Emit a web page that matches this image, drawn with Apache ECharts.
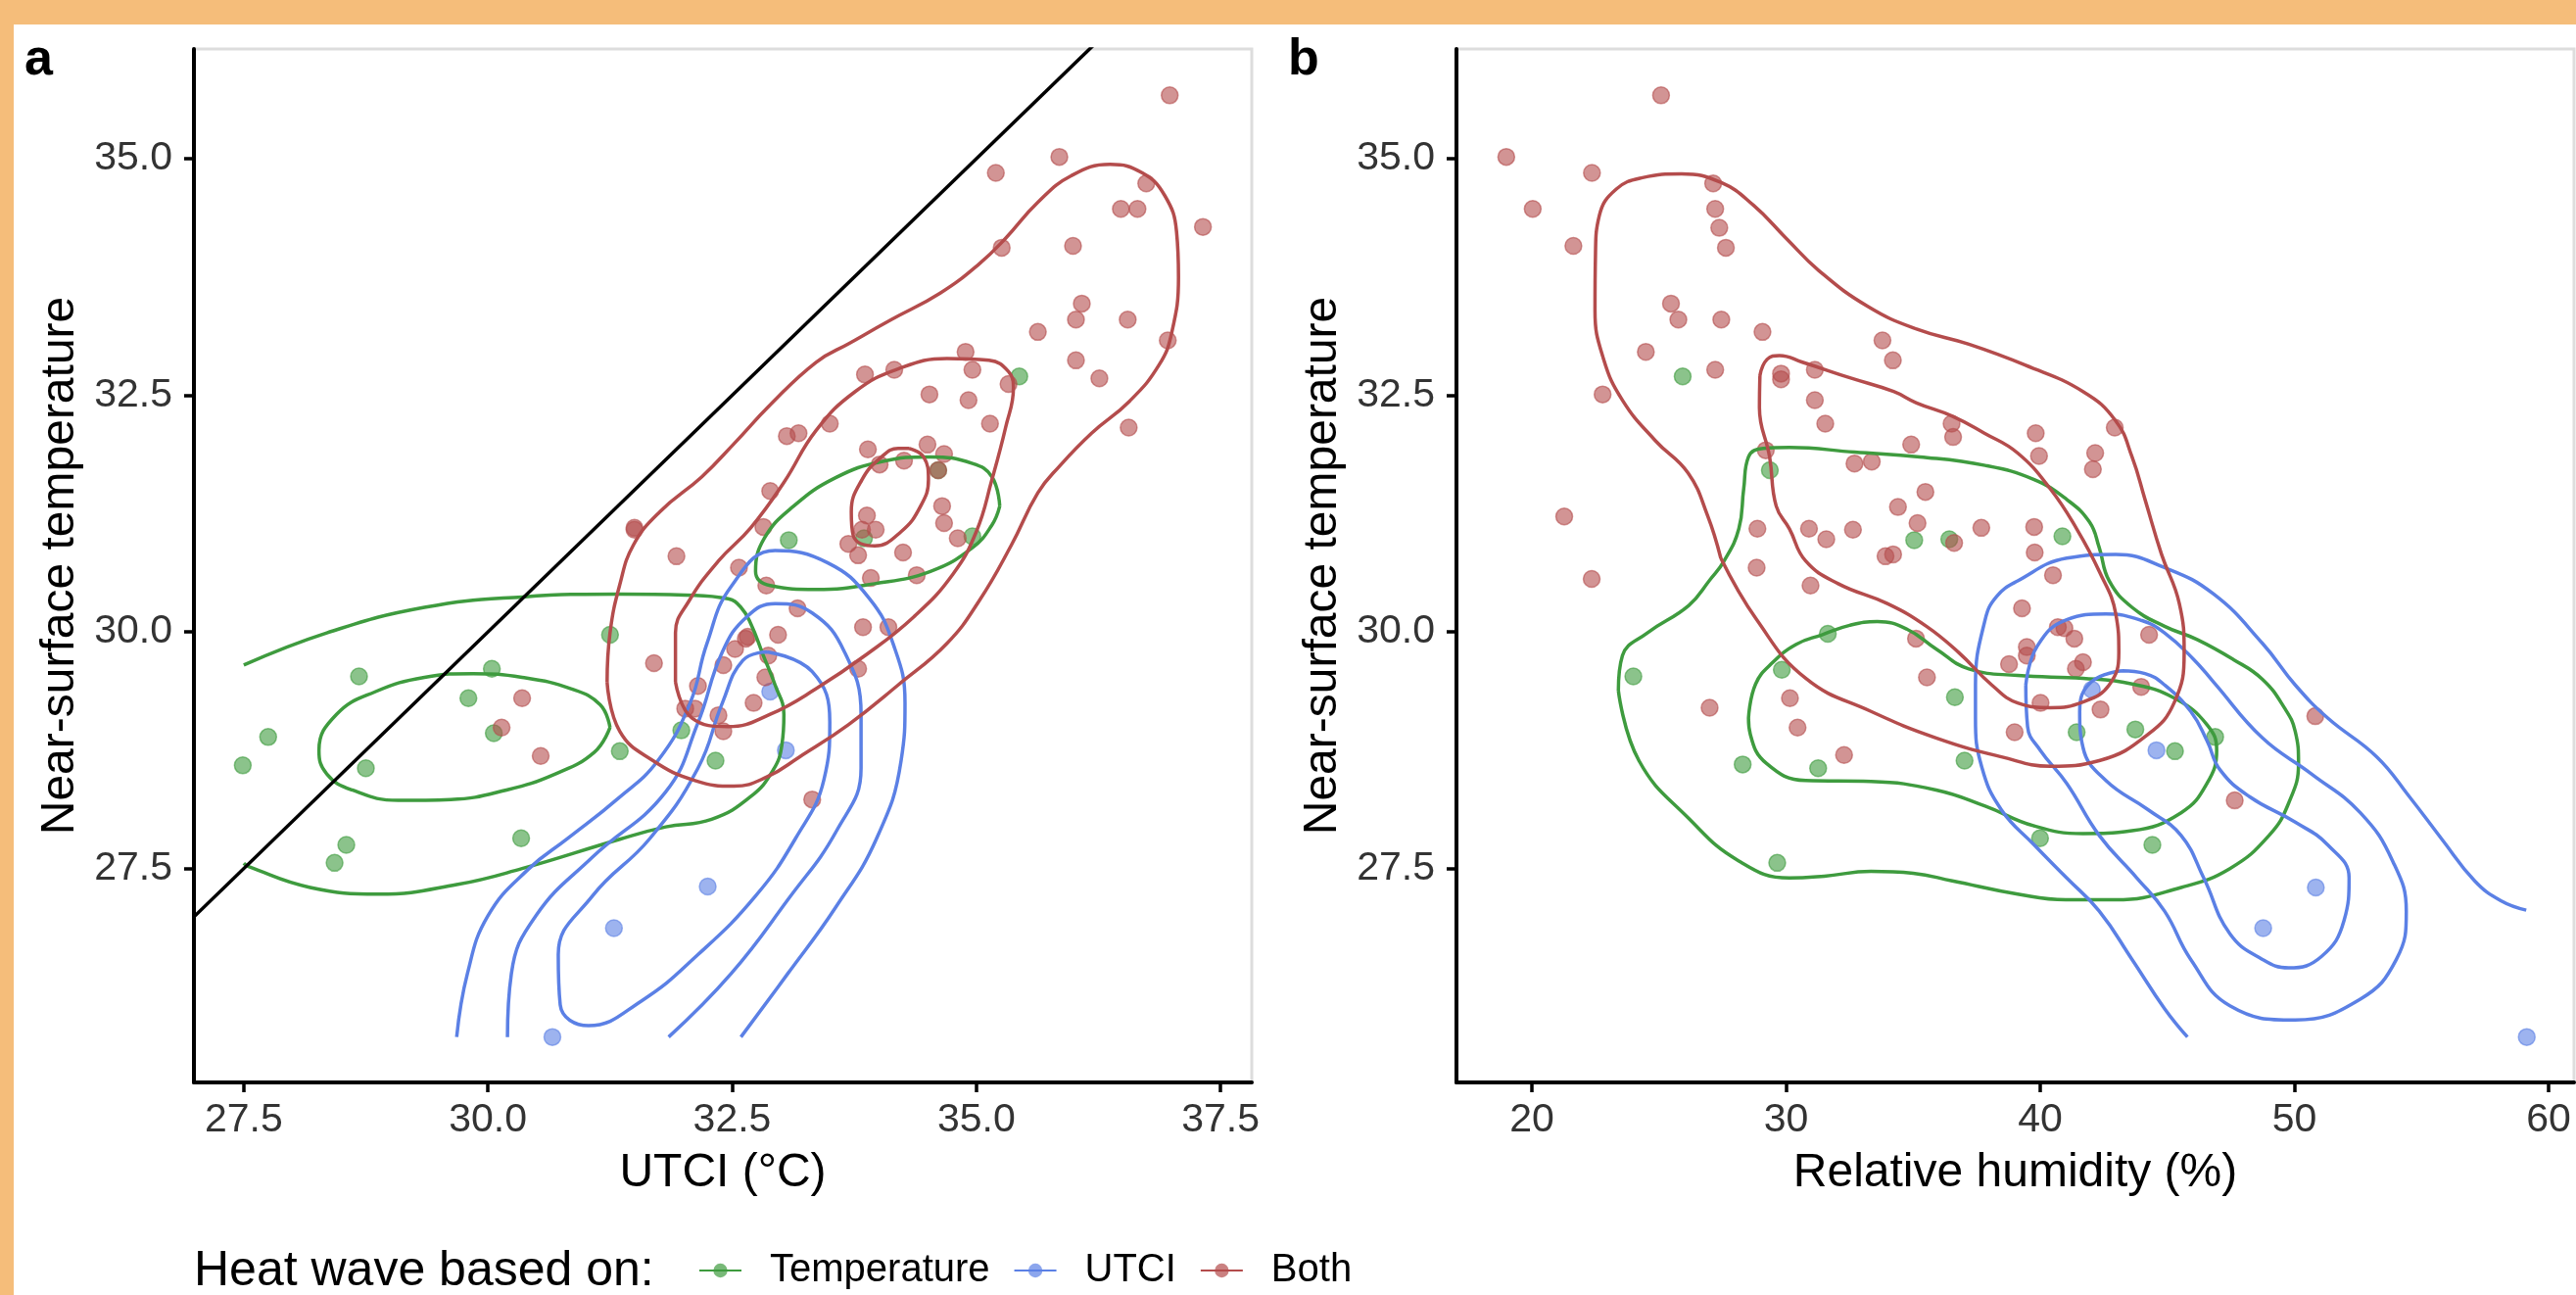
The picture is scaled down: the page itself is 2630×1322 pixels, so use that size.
<!DOCTYPE html>
<html>
<head>
<meta charset="utf-8">
<script src="https://cdn.jsdelivr.net/npm/echarts@6/dist/echarts.min.js"></script>
<style>
html,body{margin:0;padding:0;width:2630px;height:1322px;overflow:hidden;background:#F5BD7A;}
#paper{position:absolute;left:14px;top:25px;width:2616px;height:1297px;background:#ffffff;}
#chart{position:absolute;left:0;top:0;width:2630px;height:1322px;}
</style>
</head>
<body>
<div id="paper"></div>
<div id="chart"></div>
<script>
// ---------------- tick labels ----------------
const yTicks = [27.5, 30.0, 32.5, 35.0];
const xTicksUTCI = [27.5, 30.0, 32.5, 35.0, 37.5];
const xTicksRH = [20, 30, 40, 50, 60];
const groups = ['Temperature', 'UTCI', 'Both'];

// ---------------- points: panel a (UTCI, temperature) ----------------
const utciTemperature = [[28.68,29.53],[30.04,29.61],[29.80,29.30],[30.06,28.93],[27.75,28.89],[27.49,28.59],[28.75,28.56],[31.25,29.97],[31.35,28.74],[31.98,28.96],[28.55,27.75],[28.43,27.56],[30.34,27.82],[35.44,32.70],[33.08,30.97],[34.96,31.01],[33.85,30.99],[32.33,28.64],[34.61,31.71]];
const utciUTCI = [[31.29,26.87],[30.66,25.72],[32.25,27.31],[32.89,29.37],[33.05,28.75]];
const utciBoth = [[36.98,35.67],[35.85,35.02],[35.20,34.85],[36.74,34.74],[36.48,34.47],[36.65,34.47],[37.32,34.28],[35.26,34.06],[35.99,34.08],[36.08,33.47],[36.02,33.30],[36.55,33.30],[35.63,33.17],[36.96,33.08],[36.02,32.87],[36.26,32.68],[34.89,32.96],[34.96,32.77],[33.86,32.72],[34.16,32.77],[35.33,32.62],[34.52,32.51],[34.92,32.45],[35.14,32.20],[33.50,32.20],[33.06,32.07],[33.18,32.10],[36.56,32.16],[33.89,31.93],[34.50,31.98],[34.67,31.88],[34.01,31.77],[34.26,31.81],[34.61,31.71],[32.89,31.49],[34.65,31.33],[34.67,31.15],[33.88,31.23],[33.83,31.08],[33.97,31.08],[34.81,30.99],[32.82,31.11],[33.69,30.93],[33.79,30.81],[34.25,30.84],[31.50,31.10],[31.50,31.08],[31.93,30.80],[32.57,30.68],[32.85,30.49],[33.92,30.57],[34.39,30.60],[33.17,30.25],[33.84,30.05],[34.10,30.05],[32.97,29.97],[32.64,29.93],[32.66,29.95],[32.53,29.82],[31.70,29.67],[32.41,29.65],[32.87,29.75],[33.79,29.61],[32.15,29.43],[32.84,29.52],[32.72,29.25],[32.02,29.19],[32.12,29.19],[32.36,29.12],[32.41,28.95],[33.32,28.23],[30.35,29.30],[30.14,28.99],[30.54,28.69]];

// ---------------- points: panel b (relative humidity, temperature) ----------------
const rhTemperature = [[25.93,32.70],[29.36,31.71],[35.04,30.97],[36.42,30.98],[40.87,31.01],[31.64,29.98],[29.83,29.60],[36.64,29.31],[23.99,29.53],[41.43,28.94],[43.74,28.97],[46.88,28.89],[28.29,28.60],[31.26,28.56],[45.30,28.74],[37.02,28.64],[39.99,27.82],[44.41,27.75],[29.65,27.56]];
const rhUTCI = [[44.57,28.75],[42.03,29.39],[50.84,27.30],[48.77,26.87],[59.14,25.72]];
const rhBoth = [[25.08,35.67],[18.99,35.02],[22.36,34.85],[27.13,34.74],[20.03,34.47],[27.21,34.47],[27.37,34.27],[21.63,34.08],[27.63,34.06],[25.47,33.47],[25.76,33.30],[27.45,33.30],[29.07,33.17],[33.79,33.08],[24.48,32.96],[34.20,32.87],[27.21,32.77],[31.13,32.77],[29.80,32.73],[29.80,32.67],[22.78,32.51],[31.13,32.45],[31.54,32.20],[36.51,32.20],[36.57,32.06],[39.82,32.10],[42.93,32.16],[34.92,31.98],[29.20,31.92],[39.95,31.86],[42.16,31.89],[42.07,31.72],[32.69,31.78],[33.37,31.80],[35.48,31.48],[34.40,31.32],[35.17,31.15],[21.27,31.22],[28.87,31.09],[30.90,31.09],[31.58,30.98],[32.63,31.08],[37.68,31.10],[39.76,31.11],[39.78,30.84],[36.61,30.94],[33.91,30.80],[34.21,30.82],[28.84,30.68],[30.96,30.49],[40.50,30.60],[39.28,30.25],[40.69,30.05],[40.95,30.04],[41.34,29.93],[39.47,29.84],[39.47,29.75],[35.11,29.93],[44.28,29.97],[38.77,29.66],[41.68,29.68],[41.40,29.61],[35.54,29.52],[43.97,29.42],[40.01,29.25],[42.37,29.18],[30.15,29.30],[30.45,28.99],[38.99,28.94],[32.28,28.70],[47.65,28.22],[50.82,29.11],[22.35,30.56],[26.99,29.20]];

// ---------------- reference line (panel a, y = x) ----------------
const identityLine = [[26, 26], [38, 38]];

// ---------------- density contours: panel a ----------------
const cA_Temp_outer = [[27.50,29.65],[28.35,29.99],[29.35,30.26],[30.35,30.37],[31.35,30.40],[32.02,30.39],[32.46,30.35],[32.59,30.26],[32.69,30.09],[32.82,29.75],[32.94,29.44],[33.03,29.13],[33.01,28.81],[32.92,28.54],[32.69,28.26],[32.29,28.02],[31.82,27.94],[31.35,27.81],[30.35,27.50],[29.68,27.33],[28.88,27.23],[28.18,27.30],[27.55,27.52],[27.50,27.555]];
const cA_Temp_left = [[31.25,28.99],[31.15,29.23],[30.85,29.40],[30.35,29.52],[29.85,29.56],[29.35,29.52],[28.85,29.37],[28.45,29.13],[28.27,28.75],[28.35,28.50],[28.61,28.33],[29.08,28.22],[29.62,28.23],[30.19,28.33],[30.69,28.50],[31.09,28.73]];
const cA_Temp_right = [[35.24,31.33],[35.16,31.64],[34.96,31.78],[34.53,31.85],[34.03,31.80],[33.56,31.63],[33.13,31.33],[32.83,30.99],[32.74,30.64],[32.89,30.49],[33.36,30.45],[33.96,30.51],[34.53,30.64],[34.96,30.89],[35.16,31.13]];
const cA_UTCI_outer = [[29.68,25.72],[29.79,26.39],[30.00,27.00],[30.41,27.49],[30.82,27.82],[31.32,28.23],[31.74,28.64],[32.07,29.25],[32.24,29.87],[32.49,30.48],[32.94,30.86],[33.48,30.73],[33.90,30.36],[34.15,29.87],[34.27,29.25],[34.23,28.64],[33.98,27.82],[33.56,27.09],[33.07,26.39],[32.59,25.72]];
const cA_UTCI_middle = [[30.20,25.72],[30.24,26.39],[30.49,27.00],[31.07,27.62],[31.82,28.31],[32.15,29.04],[32.40,29.79],[32.65,30.16],[32.94,30.30],[33.32,30.20],[33.65,29.79],[33.82,29.13],[33.82,28.56],[33.57,27.90],[33.07,27.17],[32.49,26.39],[31.85,25.72]];
const cA_UTCI_inner = [[32.86,29.79],[33.32,29.58],[33.50,29.05],[33.44,28.44],[33.15,27.82],[32.74,27.21],[32.15,26.59],[31.57,26.10],[31.03,25.84],[30.74,26.06],[30.72,26.59],[31.07,27.21],[31.66,27.82],[32.15,28.56],[32.40,29.25],[32.61,29.70]];
const cA_Both_outer = [[31.22,29.47],[31.25,29.99],[31.35,30.50],[31.49,30.92],[31.76,31.27],[32.19,31.64],[32.52,31.99],[32.89,32.40],[33.36,32.85],[33.70,33.05],[34.13,33.30],[34.63,33.58],[35.03,33.89],[35.30,34.16],[35.63,34.54],[35.97,34.82],[36.37,34.94],[36.70,34.85],[36.93,34.61],[37.05,34.23],[37.07,33.75],[37.00,33.16],[36.87,32.82],[36.57,32.44],[36.18,32.10],[35.85,31.75],[35.63,31.47],[35.36,30.92],[35.03,30.33],[34.70,29.88],[34.20,29.44],[33.69,29.02],[33.19,28.68],[32.86,28.47],[32.52,28.37],[32.12,28.43],[31.69,28.64],[31.35,28.95]];
const cA_Both_middle = [[31.92,29.47],[31.92,29.99],[32.06,30.33],[32.36,30.75],[32.69,31.10],[33.03,31.58],[33.36,32.13],[33.76,32.54],[34.20,32.78],[34.70,32.89],[35.13,32.87],[35.33,32.75],[35.38,32.58],[35.30,32.16],[35.16,31.61],[35.00,31.06],[34.76,30.61],[34.36,30.16],[33.86,29.75],[33.36,29.40],[32.89,29.13],[32.46,29.00],[32.09,29.09]];
const cA_Both_inner = [[34.31,31.94],[34.46,31.85],[34.51,31.61],[34.43,31.33],[34.23,31.06],[33.96,30.91],[33.74,31.02],[33.72,31.27],[33.83,31.61],[34.03,31.85],[34.20,31.94]];

// ---------------- density contours: panel b ----------------
const cB_Temp_outer = [[23.40,29.38],[23.56,29.75],[24.54,29.99],[26.17,30.28],[27.00,30.55],[27.56,30.75],[28.14,31.09],[28.33,31.51],[28.52,31.85],[29.10,31.94],[30.13,31.95],[32.69,31.90],[35.26,31.85],[37.83,31.76],[39.76,31.61],[41.04,31.40],[41.94,31.16],[42.32,30.89],[42.71,30.54],[43.61,30.26],[44.89,30.06],[46.17,29.92],[47.59,29.71],[48.74,29.50],[49.60,29.20],[50.03,28.95],[50.16,28.61],[49.77,28.19],[49.00,27.85],[47.46,27.50],[45.54,27.30],[42.97,27.17],[41.00,27.17],[39.11,27.23],[36.54,27.37],[35.00,27.45],[33.34,27.47],[31.50,27.42],[30.13,27.40],[28.14,27.58],[26.17,28.03],[24.21,28.64]];
const cB_Temp_inner = [[28.52,29.09],[28.80,29.45],[29.48,29.68],[30.40,29.87],[31.41,29.97],[32.50,30.07],[33.59,30.11],[34.75,30.03],[35.90,29.82],[37.19,29.61],[39.11,29.54],[41.68,29.51],[43.61,29.45],[45.28,29.30],[46.56,29.02],[46.94,28.75],[46.56,28.40],[45.54,28.09],[43.61,27.90],[41.68,27.87],[39.76,27.95],[37.83,28.16],[35.90,28.33],[33.34,28.42],[30.77,28.43],[29.23,28.61],[28.59,28.92]];
const cB_UTCI_outer = [[45.79,25.72],[44.89,26.02],[43.61,26.54],[42.32,27.05],[41.04,27.40],[39.76,27.75],[38.47,28.12],[37.70,28.57],[37.45,29.09],[37.45,29.44],[37.83,30.13],[38.30,30.38],[39.11,30.54],[41.04,30.78],[42.97,30.82],[44.89,30.68],[46.82,30.40],[48.74,29.88],[50.03,29.44],[51.31,29.09],[53.24,28.68],[54.52,28.26],[55.80,27.81],[57.09,27.37],[58.12,27.16],[59.12,27.06]];
const cB_UTCI_middle = [[39.43,29.44],[39.88,29.85],[41.04,30.13],[42.58,30.19],[44.00,30.12],[44.89,29.99],[46.00,29.72],[46.82,29.47],[48.74,28.88],[50.67,28.50],[52.59,28.09],[53.88,27.57],[54.40,27.05],[54.01,26.54],[52.59,26.12],[50.03,25.90],[47.46,26.05],[45.92,26.54],[44.89,27.05],[43.80,27.40],[42.32,27.85],[41.04,28.40],[40.00,28.75],[39.50,29.00]];
const cB_UTCI_inner = [[43.22,29.59],[42.00,29.47],[41.55,29.16],[41.68,28.78],[42.58,28.43],[44.25,28.12],[45.54,27.85],[46.43,27.40],[47.46,26.81],[48.74,26.54],[49.77,26.45],[51.06,26.57],[51.95,26.95],[52.15,27.40],[51.31,27.75],[50.03,27.99],[48.23,28.26],[47.08,28.54],[46.56,28.85],[45.92,29.16],[44.89,29.44],[44.12,29.56]];
const cB_Both_outer = [[27.43,30.78],[26.91,31.23],[26.14,31.68],[24.86,32.02],[23.58,32.44],[22.81,32.89],[22.48,33.40],[22.50,34.00],[22.65,34.40],[23.32,34.68],[24.35,34.80],[25.89,34.84],[27.43,34.75],[28.71,34.51],[30.00,34.16],[31.28,33.82],[33.21,33.44],[35.13,33.20],[37.19,33.04],[39.40,32.82],[41.68,32.54],[42.97,32.23],[43.61,31.85],[44.12,31.40],[44.77,30.82],[45.47,30.30],[45.66,29.78],[45.28,29.26],[44.25,28.92],[42.32,28.64],[40.40,28.58],[38.47,28.68],[35.90,28.88],[33.34,29.16],[30.77,29.51],[28.84,30.13]];
const cB_Both_middle = [[28.97,32.71],[29.25,32.88],[29.74,32.92],[30.64,32.85],[32.57,32.68],[34.23,32.54],[35.13,32.42],[36.54,32.28],[37.80,32.10],[39.11,31.89],[40.40,31.51],[41.43,31.09],[42.32,30.64],[42.97,30.19],[43.09,29.78],[42.71,29.44],[41.68,29.26],[40.40,29.20],[39.11,29.25],[38.09,29.44],[36.80,29.78],[35.52,30.06],[33.98,30.30],[32.05,30.51],[30.77,30.75],[30.13,31.09],[29.61,31.33],[29.35,31.85],[28.95,32.37]];

// ---------------- styling ----------------
const FONT = '"Liberation Sans", Arial, Helvetica, sans-serif';
const COLORS = { Temperature: '#3E9B3E', UTCI: '#5B80E5', Both: '#B44C4C' };

function closeLoop(pts) { return pts.concat([pts[0]]); }

function contour(name, pts, closed, gi) {
  return {
    type: 'line', name: name, xAxisIndex: gi, yAxisIndex: gi,
    data: closed ? closeLoop(pts) : pts,
    smooth: 0.45, showSymbol: false, symbol: 'circle',
    lineStyle: { color: COLORS[name], width: 3.5 },
    itemStyle: { color: COLORS[name], opacity: 0.7 },
    z: 3, silent: true, animation: false
  };
}
function points(name, pts, gi) {
  return {
    type: 'scatter', name: name, xAxisIndex: gi, yAxisIndex: gi,
    data: pts, symbol: 'circle', symbolSize: 17,
    itemStyle: { color: COLORS[name], opacity: 0.6, borderColor: COLORS[name], borderWidth: 1.5 },
    z: 2, silent: true, animation: false
  };
}

function xAxisCfg(gi, min, max, ticks, fmt, title) {
  return {
    gridIndex: gi, type: 'value', min: min, max: max,
    axisLine: { show: true, onZero: false, lineStyle: { color: '#000', width: 4 } },
    axisTick: { show: true, length: 10, customValues: ticks, lineStyle: { color: '#000', width: 3.5 } },
    axisLabel: { customValues: ticks, formatter: fmt, fontSize: 41, color: '#333', margin: 18, fontFamily: FONT },
    splitLine: { show: false },
    name: title, nameLocation: 'middle', nameGap: 69,
    nameTextStyle: { fontSize: 48, color: '#000', fontFamily: FONT, lineHeight: 48 }
  };
}
function yAxisCfg(gi) {
  return {
    gridIndex: gi, type: 'value', min: 25.24, max: 36.16,
    axisLine: { show: true, onZero: false, lineStyle: { color: '#000', width: 4 } },
    axisTick: { show: true, length: 10, customValues: yTicks, lineStyle: { color: '#000', width: 3.5 } },
    axisLabel: { customValues: yTicks, formatter: v => v.toFixed(1), fontSize: 41, color: '#333', margin: 22, fontFamily: FONT },
    splitLine: { show: false },
    name: 'Near-surface temperature', nameLocation: 'middle', nameGap: 112, nameRotate: 90,
    nameTextStyle: { fontSize: 48, color: '#000', fontFamily: FONT, lineHeight: 48 }
  };
}

const series = [
  contour('Temperature', cA_Temp_outer, false, 0),
  contour('Temperature', cA_Temp_left, true, 0),
  contour('Temperature', cA_Temp_right, true, 0),
  contour('UTCI', cA_UTCI_outer, false, 0),
  contour('UTCI', cA_UTCI_middle, false, 0),
  contour('UTCI', cA_UTCI_inner, true, 0),
  contour('Both', cA_Both_outer, true, 0),
  contour('Both', cA_Both_middle, true, 0),
  contour('Both', cA_Both_inner, true, 0),
  contour('Temperature', cB_Temp_outer, true, 1),
  contour('Temperature', cB_Temp_inner, true, 1),
  contour('UTCI', cB_UTCI_outer, false, 1),
  contour('UTCI', cB_UTCI_middle, true, 1),
  contour('UTCI', cB_UTCI_inner, true, 1),
  contour('Both', cB_Both_outer, true, 1),
  contour('Both', cB_Both_middle, true, 1),
  points('Temperature', utciTemperature, 0),
  points('UTCI', utciUTCI, 0),
  points('Both', utciBoth, 0),
  points('Temperature', rhTemperature, 1),
  points('UTCI', rhUTCI, 1),
  points('Both', rhBoth, 1),
  {
    type: 'line', name: 'identity', xAxisIndex: 0, yAxisIndex: 0, data: identityLine,
    showSymbol: false, lineStyle: { color: '#000', width: 3.5 }, z: 4, silent: true, clip: true, animation: false
  }
];

const chart = echarts.init(document.getElementById('chart'), null, { renderer: 'canvas' });
chart.setOption({
  animation: false,
  backgroundColor: 'transparent',
  textStyle: { fontFamily: FONT },
  title: [
    { text: 'a', left: 25, top: 36, padding: 0, textStyle: { fontSize: 52, fontWeight: 'bold', color: '#000', fontFamily: FONT, lineHeight: 52 } },
    { text: 'b', left: 1315, top: 36, padding: 0, textStyle: { fontSize: 52, fontWeight: 'bold', color: '#000', fontFamily: FONT, lineHeight: 52 } },
    { text: 'Heat wave based on:', left: 198, top: 1273, padding: 0, textStyle: { fontSize: 50, fontWeight: 'normal', color: '#000', fontFamily: FONT, lineHeight: 50 } }
  ],
  legend: {
    data: groups, left: 713, top: 1275, padding: 0, orient: 'horizontal',
    itemWidth: 43, itemHeight: 18, itemGap: 24, selectedMode: false,
    textStyle: { fontSize: 40, color: '#000', fontFamily: FONT, padding: [0, 0, 0, 24], lineHeight: 44 }
  },
  grid: [
    { left: 198, top: 50, width: 1080, height: 1055, show: true, borderColor: '#dddddd', borderWidth: 3, backgroundColor: '#ffffff' },
    { left: 1487, top: 50, width: 1141, height: 1055, show: true, borderColor: '#dddddd', borderWidth: 3, backgroundColor: '#ffffff' }
  ],
  xAxis: [
    xAxisCfg(0, 26.99, 37.82, xTicksUTCI, v => v.toFixed(1), 'UTCI (°C)'),
    xAxisCfg(1, 17.03, 61.0, xTicksRH, v => String(v), 'Relative humidity (%)')
  ],
  yAxis: [yAxisCfg(0), yAxisCfg(1)],
  series: series
});
</script>
</body>
</html>
